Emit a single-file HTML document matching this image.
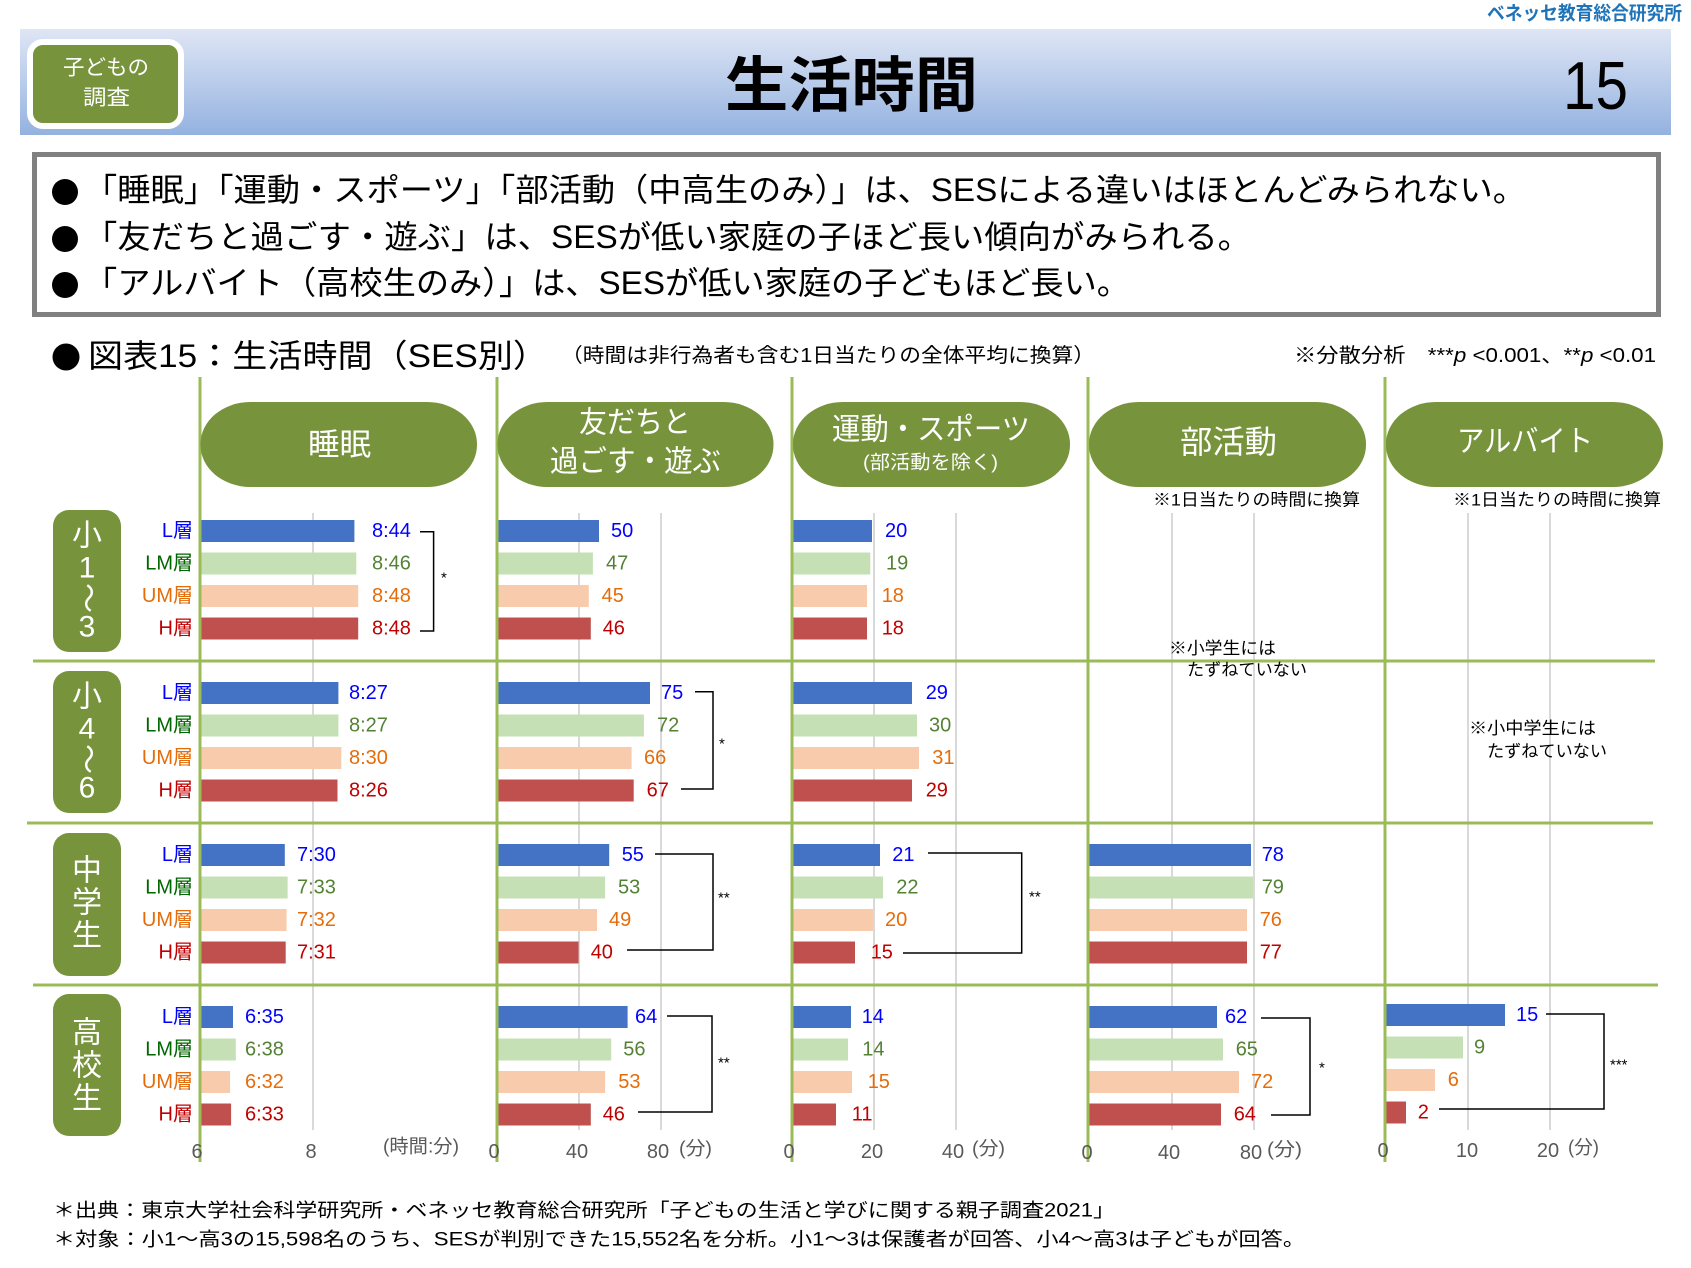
<!DOCTYPE html>
<html><head><meta charset="utf-8"><style>
html,body{margin:0;padding:0;background:#fff;}
svg{display:block;font-family:"Liberation Sans","Noto Sans CJK JP",sans-serif;}
text{dominant-baseline:central;}
</style></head><body>
<svg width="1691" height="1268" viewBox="0 0 1691 1268" xmlns="http://www.w3.org/2000/svg">
<defs><linearGradient id="hg" x1="0" y1="0" x2="0" y2="1"><stop offset="0" stop-color="#DFE6F5"/><stop offset="1" stop-color="#94B2E0"/></linearGradient></defs>
<rect width="1691" height="1268" fill="#fff"/>

<!-- header -->
<text x="1487" y="14" font-size="19" font-weight="bold" fill="#1F74B9" textLength="195" lengthAdjust="spacingAndGlyphs">ベネッセ教育総合研究所</text>
<rect x="20" y="29" width="1651" height="106" fill="url(#hg)"/>
<rect x="30" y="42" width="151" height="84" rx="13" fill="#77933C" stroke="#fff" stroke-width="6"/>
<text x="63" y="68" font-size="21" fill="#fff" textLength="86" lengthAdjust="spacingAndGlyphs">子どもの</text>
<text x="83" y="98" font-size="21" fill="#fff" textLength="47" lengthAdjust="spacingAndGlyphs">調査</text>
<text x="725" y="86" font-size="60" font-weight="bold" fill="#000" textLength="253" lengthAdjust="spacingAndGlyphs">生活時間</text>
<text x="1563" y="86" font-size="68" fill="#000" textLength="65" lengthAdjust="spacingAndGlyphs">15</text>

<!-- summary box -->
<rect x="34.5" y="154.5" width="1624" height="160" fill="#fff" stroke="#808080" stroke-width="5"/>
<circle cx="65" cy="192" r="13" fill="#000"/>
<circle cx="65" cy="239" r="13" fill="#000"/>
<circle cx="65" cy="285" r="13" fill="#000"/>
<text x="84" y="190" font-size="32" fill="#000" textLength="1442" lengthAdjust="spacingAndGlyphs">「睡眠」「運動・スポーツ」「部活動（中高生のみ）」は、SESによる違いはほとんどみられない。</text>
<text x="84" y="237" font-size="32" fill="#000" textLength="1167" lengthAdjust="spacingAndGlyphs">「友だちと過ごす・遊ぶ」は、SESが低い家庭の子ほど長い傾向がみられる。</text>
<text x="84" y="283" font-size="32" fill="#000" textLength="1046" lengthAdjust="spacingAndGlyphs">「アルバイト（高校生のみ）」は、SESが低い家庭の子どもほど長い。</text>

<!-- section title -->
<circle cx="66" cy="357" r="13.5" fill="#000"/>
<text x="88" y="356" font-size="32" fill="#000" textLength="460" lengthAdjust="spacingAndGlyphs">図表15：生活時間（SES別）</text>
<text x="561" y="356" font-size="20" fill="#000" textLength="534" lengthAdjust="spacingAndGlyphs">（時間は非行為者も含む1日当たりの全体平均に換算）</text>
<text x="1294" y="356" font-size="20" fill="#000" textLength="362" lengthAdjust="spacingAndGlyphs">※分散分析　***<tspan font-style="italic">p</tspan> &lt;0.001、**<tspan font-style="italic">p</tspan> &lt;0.01</text>

<!-- gray gridlines -->
<g stroke="#D9D9D9" stroke-width="2">
<line x1="313" y1="513" x2="313" y2="1130"/>
<line x1="579" y1="513" x2="579" y2="1130"/>
<line x1="661" y1="513" x2="661" y2="1130"/>
<line x1="874" y1="513" x2="874" y2="1130"/>
<line x1="956" y1="513" x2="956" y2="1130"/>
<line x1="1172" y1="513" x2="1172" y2="1130"/>
<line x1="1254" y1="513" x2="1254" y2="1130"/>
<line x1="1468" y1="513" x2="1468" y2="1130"/>
<line x1="1550" y1="513" x2="1550" y2="1130"/>
</g>

<!-- bars -->
<g>
<!-- sleep -->
<rect x="200" y="520" width="154.4" height="22" fill="#4472C4"/>
<rect x="200" y="552.5" width="156.3" height="22" fill="#C5E0B4"/>
<rect x="200" y="585" width="158.2" height="22" fill="#F8CBAD"/>
<rect x="200" y="617.5" width="158.2" height="22" fill="#C0504D"/>
<rect x="200" y="682" width="138.4" height="22" fill="#4472C4"/>
<rect x="200" y="714.5" width="138.4" height="22" fill="#C5E0B4"/>
<rect x="200" y="747" width="141.3" height="22" fill="#F8CBAD"/>
<rect x="200" y="779.5" width="137.5" height="22" fill="#C0504D"/>
<rect x="200" y="844" width="84.8" height="22" fill="#4472C4"/>
<rect x="200" y="876.5" width="87.6" height="22" fill="#C5E0B4"/>
<rect x="200" y="909" width="86.6" height="22" fill="#F8CBAD"/>
<rect x="200" y="941.5" width="85.7" height="22" fill="#C0504D"/>
<rect x="200" y="1006" width="33" height="22" fill="#4472C4"/>
<rect x="200" y="1038.5" width="35.8" height="22" fill="#C5E0B4"/>
<rect x="200" y="1071" width="30.1" height="22" fill="#F8CBAD"/>
<rect x="200" y="1103.5" width="31.1" height="22" fill="#C0504D"/>
<!-- friends -->
<rect x="497" y="520" width="102" height="22" fill="#4472C4"/>
<rect x="497" y="552.5" width="95.9" height="22" fill="#C5E0B4"/>
<rect x="497" y="585" width="91.8" height="22" fill="#F8CBAD"/>
<rect x="497" y="617.5" width="93.8" height="22" fill="#C0504D"/>
<rect x="497" y="682" width="153" height="22" fill="#4472C4"/>
<rect x="497" y="714.5" width="146.9" height="22" fill="#C5E0B4"/>
<rect x="497" y="747" width="134.6" height="22" fill="#F8CBAD"/>
<rect x="497" y="779.5" width="136.7" height="22" fill="#C0504D"/>
<rect x="497" y="844" width="112.2" height="22" fill="#4472C4"/>
<rect x="497" y="876.5" width="108.1" height="22" fill="#C5E0B4"/>
<rect x="497" y="909" width="100" height="22" fill="#F8CBAD"/>
<rect x="497" y="941.5" width="81.6" height="22" fill="#C0504D"/>
<rect x="497" y="1006" width="130.6" height="22" fill="#4472C4"/>
<rect x="497" y="1038.5" width="114.2" height="22" fill="#C5E0B4"/>
<rect x="497" y="1071" width="108.1" height="22" fill="#F8CBAD"/>
<rect x="497" y="1103.5" width="93.8" height="22" fill="#C0504D"/>
<!-- sports -->
<rect x="792" y="520" width="80" height="22" fill="#4472C4"/>
<rect x="792" y="552.5" width="78.3" height="22" fill="#C5E0B4"/>
<rect x="792" y="585" width="75" height="22" fill="#F8CBAD"/>
<rect x="792" y="617.5" width="75" height="22" fill="#C0504D"/>
<rect x="792" y="682" width="120" height="22" fill="#4472C4"/>
<rect x="792" y="714.5" width="125" height="22" fill="#C5E0B4"/>
<rect x="792" y="747" width="127" height="22" fill="#F8CBAD"/>
<rect x="792" y="779.5" width="120" height="22" fill="#C0504D"/>
<rect x="792" y="844" width="88" height="22" fill="#4472C4"/>
<rect x="792" y="876.5" width="91" height="22" fill="#C5E0B4"/>
<rect x="792" y="909" width="81" height="22" fill="#F8CBAD"/>
<rect x="792" y="941.5" width="63" height="22" fill="#C0504D"/>
<rect x="792" y="1006" width="59" height="22" fill="#4472C4"/>
<rect x="792" y="1038.5" width="56" height="22" fill="#C5E0B4"/>
<rect x="792" y="1071" width="60" height="22" fill="#F8CBAD"/>
<rect x="792" y="1103.5" width="44" height="22" fill="#C0504D"/>
<!-- club -->
<rect x="1089" y="844" width="162" height="22" fill="#4472C4"/>
<rect x="1089" y="876.5" width="164" height="22" fill="#C5E0B4"/>
<rect x="1089" y="909" width="158" height="22" fill="#F8CBAD"/>
<rect x="1089" y="941.5" width="158" height="22" fill="#C0504D"/>
<rect x="1089" y="1006" width="128" height="22" fill="#4472C4"/>
<rect x="1089" y="1038.5" width="134" height="22" fill="#C5E0B4"/>
<rect x="1089" y="1071" width="150" height="22" fill="#F8CBAD"/>
<rect x="1089" y="1103.5" width="132" height="22" fill="#C0504D"/>
<!-- arubaito -->
<rect x="1385" y="1004" width="120" height="22" fill="#4472C4"/>
<rect x="1385" y="1036.5" width="78" height="22" fill="#C5E0B4"/>
<rect x="1385" y="1069" width="50" height="22" fill="#F8CBAD"/>
<rect x="1385" y="1101.5" width="21" height="22" fill="#C0504D"/>
</g>

<!-- green structure lines -->
<g stroke="#9BBB59" stroke-width="3">
<line x1="200" y1="377" x2="200" y2="1162"/>
<line x1="497" y1="377" x2="497" y2="1162"/>
<line x1="792" y1="377" x2="792" y2="1162"/>
<line x1="1088" y1="377" x2="1088" y2="1162"/>
<line x1="1385" y1="377" x2="1385" y2="1162"/>
<line x1="33" y1="661" x2="1655" y2="661"/>
<line x1="27" y1="823" x2="1653" y2="823"/>
<line x1="33" y1="985" x2="1658" y2="985"/>
</g>

<!-- header pills -->
<g fill="#77933C">
<rect x="200.5" y="402" width="276.5" height="85" rx="50" ry="42"/>
<rect x="497.5" y="402" width="276" height="85" rx="50" ry="42"/>
<rect x="793" y="402" width="277" height="85" rx="50" ry="42"/>
<rect x="1089" y="402" width="277" height="85" rx="50" ry="42"/>
<rect x="1386" y="402" width="277" height="85" rx="50" ry="42"/>
</g>
<g fill="#fff">
<text x="308" y="445" font-size="31" textLength="63" lengthAdjust="spacingAndGlyphs">睡眠</text>
<text x="579" y="423" font-size="30" textLength="112" lengthAdjust="spacingAndGlyphs">友だちと</text>
<text x="550" y="462" font-size="30" textLength="171" lengthAdjust="spacingAndGlyphs">過ごす・遊ぶ</text>
<text x="832" y="430" font-size="30" textLength="198" lengthAdjust="spacingAndGlyphs">運動・スポーツ</text>
<text x="863" y="463" font-size="19" textLength="135" lengthAdjust="spacingAndGlyphs">(部活動を除く)</text>
<text x="1180" y="442" font-size="32" textLength="97" lengthAdjust="spacingAndGlyphs">部活動</text>
<text x="1457" y="442" font-size="30" textLength="136" lengthAdjust="spacingAndGlyphs">アルバイト</text>
</g>

<!-- notes -->
<g fill="#000" font-size="17">
<text x="1153" y="500" textLength="207" lengthAdjust="spacingAndGlyphs">※1日当たりの時間に換算</text>
<text x="1453" y="500" textLength="208" lengthAdjust="spacingAndGlyphs">※1日当たりの時間に換算</text>
<text x="1169" y="648.5" textLength="107" lengthAdjust="spacingAndGlyphs">※小学生には</text>
<text x="1187" y="670" textLength="120" lengthAdjust="spacingAndGlyphs">たずねていない</text>
<text x="1469" y="728.5" textLength="127" lengthAdjust="spacingAndGlyphs">※小中学生には</text>
<text x="1487" y="751.5" textLength="120" lengthAdjust="spacingAndGlyphs">たずねていない</text>
</g>

<!-- row badges -->
<g fill="#77933C">
<rect x="53" y="510" width="68" height="142" rx="16"/>
<rect x="53" y="671" width="68" height="142" rx="16"/>
<rect x="53" y="833" width="68" height="143" rx="16"/>
<rect x="53" y="994" width="68" height="142" rx="16"/>
</g>
<g fill="#fff" font-size="30" text-anchor="middle">
<text x="87" y="536">小</text>
<text x="87" y="568">1</text>
<text x="87" y="598" transform="rotate(90 87 598)">～</text>
<text x="87" y="627">3</text>
<text x="87" y="697">小</text>
<text x="87" y="729">4</text>
<text x="87" y="759" transform="rotate(90 87 759)">～</text>
<text x="87" y="788">6</text>
<text x="87" y="871">中</text>
<text x="87" y="903">学</text>
<text x="87" y="936">生</text>
<text x="87" y="1033">高</text>
<text x="87" y="1066">校</text>
<text x="87" y="1099">生</text>
</g>

<!-- row labels -->
<g font-size="20" text-anchor="end">
<text x="193" y="531" fill="#0000FF">L層</text>
<text x="193" y="563.5" fill="#006600">LM層</text>
<text x="193" y="596" fill="#E46C0A">UM層</text>
<text x="193" y="628.5" fill="#C00000">H層</text>
<text x="193" y="693" fill="#0000FF">L層</text>
<text x="193" y="725.5" fill="#006600">LM層</text>
<text x="193" y="758" fill="#E46C0A">UM層</text>
<text x="193" y="790.5" fill="#C00000">H層</text>
<text x="193" y="855" fill="#0000FF">L層</text>
<text x="193" y="887.5" fill="#006600">LM層</text>
<text x="193" y="920" fill="#E46C0A">UM層</text>
<text x="193" y="952.5" fill="#C00000">H層</text>
<text x="193" y="1017" fill="#0000FF">L層</text>
<text x="193" y="1049.5" fill="#006600">LM層</text>
<text x="193" y="1082" fill="#E46C0A">UM層</text>
<text x="193" y="1114.5" fill="#C00000">H層</text>
</g>

<!-- value labels -->
<g font-size="20">
<!-- sleep -->
<text x="372" y="531" fill="#0000FF">8:44</text>
<text x="372" y="563.5" fill="#548235">8:46</text>
<text x="372" y="596" fill="#E46C0A">8:48</text>
<text x="372" y="628.5" fill="#C00000">8:48</text>
<text x="349" y="693" fill="#0000FF">8:27</text>
<text x="349" y="725.5" fill="#548235">8:27</text>
<text x="349" y="758" fill="#E46C0A">8:30</text>
<text x="349" y="790.5" fill="#C00000">8:26</text>
<text x="297" y="855" fill="#0000FF">7:30</text>
<text x="297" y="887.5" fill="#548235">7:33</text>
<text x="297" y="920" fill="#E46C0A">7:32</text>
<text x="297" y="952.5" fill="#C00000">7:31</text>
<text x="245" y="1017" fill="#0000FF">6:35</text>
<text x="245" y="1049.5" fill="#548235">6:38</text>
<text x="245" y="1082" fill="#E46C0A">6:32</text>
<text x="245" y="1114.5" fill="#C00000">6:33</text>
<!-- friends -->
<text x="611" y="531" fill="#0000FF">50</text>
<text x="606" y="563.5" fill="#548235">47</text>
<text x="601.6" y="596" fill="#E46C0A">45</text>
<text x="602.7" y="628.5" fill="#C00000">46</text>
<text x="661" y="693" fill="#0000FF">75</text>
<text x="657" y="725.5" fill="#548235">72</text>
<text x="644" y="758" fill="#E46C0A">66</text>
<text x="646.6" y="790.5" fill="#C00000">67</text>
<text x="621.7" y="855" fill="#0000FF">55</text>
<text x="618" y="887.5" fill="#548235">53</text>
<text x="609" y="920" fill="#E46C0A">49</text>
<text x="590.7" y="952.5" fill="#C00000">40</text>
<text x="635" y="1017" fill="#0000FF">64</text>
<text x="623.3" y="1049.5" fill="#548235">56</text>
<text x="618.3" y="1082" fill="#E46C0A">53</text>
<text x="602.7" y="1114.5" fill="#C00000">46</text>
<!-- sports -->
<text x="885" y="531" fill="#0000FF">20</text>
<text x="886" y="563.5" fill="#548235">19</text>
<text x="881.7" y="596" fill="#E46C0A">18</text>
<text x="881.7" y="628.5" fill="#C00000">18</text>
<text x="925.7" y="693" fill="#0000FF">29</text>
<text x="929" y="725.5" fill="#548235">30</text>
<text x="932.3" y="758" fill="#E46C0A">31</text>
<text x="925.7" y="790.5" fill="#C00000">29</text>
<text x="892.3" y="855" fill="#0000FF">21</text>
<text x="896.3" y="887.5" fill="#548235">22</text>
<text x="885" y="920" fill="#E46C0A">20</text>
<text x="870.7" y="952.5" fill="#C00000">15</text>
<text x="861.7" y="1017" fill="#0000FF">14</text>
<text x="862.3" y="1049.5" fill="#548235">14</text>
<text x="867.7" y="1082" fill="#E46C0A">15</text>
<text x="851.7" y="1114.5" fill="#C00000">11</text>
<!-- club -->
<text x="1261.7" y="855" fill="#0000FF">78</text>
<text x="1261.7" y="887.5" fill="#548235">79</text>
<text x="1259.7" y="920" fill="#E46C0A">76</text>
<text x="1259.7" y="952.5" fill="#C00000">77</text>
<text x="1225" y="1017" fill="#0000FF">62</text>
<text x="1235.7" y="1049.5" fill="#548235">65</text>
<text x="1251" y="1082" fill="#E46C0A">72</text>
<text x="1233.7" y="1114.5" fill="#C00000">64</text>
<!-- arubaito -->
<text x="1516" y="1015" fill="#0000FF">15</text>
<text x="1474" y="1047.5" fill="#548235">9</text>
<text x="1447.7" y="1080" fill="#E46C0A">6</text>
<text x="1417.7" y="1112.5" fill="#C00000">2</text>
</g>

<!-- significance brackets -->
<g fill="none" stroke="#000" stroke-width="1.5">
<polyline points="420,531.7 433.6,531.7 433.6,631 420,631"/>
<polyline points="695,691.7 713,691.7 713,789 681,789"/>
<polyline points="655,854 713,854 713,950 627,950"/>
<polyline points="667,1016 712,1016 712,1112 638,1112"/>
<polyline points="928,853 1021.7,853 1021.7,953 903,953"/>
<polyline points="1261,1018 1310,1018 1310,1115 1271,1115"/>
<polyline points="1546,1014 1604,1014 1604,1109 1439,1109"/>
</g>
<g fill="#000" font-size="15">
<text x="441" y="578">*</text>
<text x="719" y="744">*</text>
<text x="718" y="898">**</text>
<text x="718" y="1063">**</text>
<text x="1029" y="897">**</text>
<text x="1319" y="1068">*</text>
<text x="1610" y="1065">***</text>
</g>

<!-- axis tick labels -->
<g font-size="20" fill="#595959" text-anchor="middle">
<text x="197" y="1152">6</text>
<text x="311" y="1152">8</text>
<text x="494" y="1152">0</text>
<text x="577" y="1152">40</text>
<text x="658" y="1152">80</text>
<text x="789" y="1152">0</text>
<text x="872" y="1152">20</text>
<text x="953" y="1152">40</text>
<text x="1087" y="1153">0</text>
<text x="1169" y="1153">40</text>
<text x="1251" y="1153">80</text>
<text x="1383" y="1151">0</text>
<text x="1467" y="1151">10</text>
<text x="1548" y="1151">20</text>
</g>
<g font-size="19" fill="#595959">
<text x="383" y="1147" textLength="76" lengthAdjust="spacingAndGlyphs">(時間:分)</text>
<text x="679" y="1149" textLength="33" lengthAdjust="spacingAndGlyphs">(分)</text>
<text x="972" y="1149" textLength="33" lengthAdjust="spacingAndGlyphs">(分)</text>
<text x="1267" y="1150" textLength="35" lengthAdjust="spacingAndGlyphs">(分)</text>
<text x="1568" y="1148" textLength="31" lengthAdjust="spacingAndGlyphs">(分)</text>
</g>

<!-- footer -->
<text x="53" y="1211" font-size="19" fill="#000" textLength="1062" lengthAdjust="spacingAndGlyphs">＊出典：東京大学社会科学研究所・ベネッセ教育総合研究所「子どもの生活と学びに関する親子調査2021」</text>
<text x="53" y="1240" font-size="19" fill="#000" textLength="1252" lengthAdjust="spacingAndGlyphs">＊対象：小1～高3の15,598名のうち、SESが判別できた15,552名を分析。小1～3は保護者が回答、小4～高3は子どもが回答。</text>
</svg>
</body></html>
